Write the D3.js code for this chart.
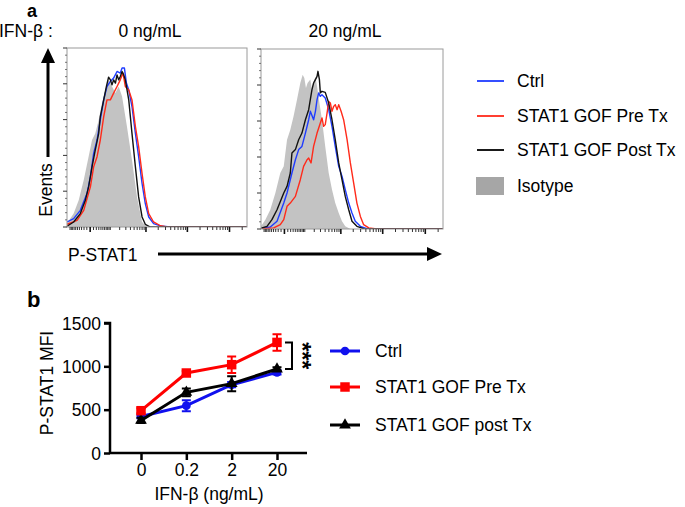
<!DOCTYPE html>
<html>
<head>
<meta charset="utf-8">
<script src="https://cdn.jsdelivr.net/npm/d3@7"></script>
<style>
  html, body { margin: 0; padding: 0; background: #fff; }
  svg { display: block; font-family: "Liberation Sans", Arial, Helvetica, sans-serif; }
</style>
</head>
<body>
<svg id="chart" width="685" height="507"></svg>
<script>
// ---------------- DATA ----------------
// Panel a: flow cytometry histograms. x = channel (0-1000 across the plot), y = % of max events
const histSeries = ["Ctrl", "STAT1 GOF Pre Tx", "STAT1 GOF Post Tx", "Isotype"];
const histPanels = ["0 ng/mL", "20 ng/mL"];

const iso0 = [[0,1.9],[37,7.5],[65,15],[93,26.2],[120,39.3],[139,48.6],[157,52.3],[176,59.8],[194,69.2],[213,76.6],[231,82.2],[250,78.5],[269,74.8],[287,78.5],[306,72.9],[333,56.1],[361,37.4],[389,16.8],[417,2.8],[444,0],[1000,0]];
const ctrl0 = [[0,2.8],[37,4.7],[74,9.3],[111,18.7],[130,28],[148,41.1],[167,48.6],[185,59.8],[204,71],[222,78.5],[241,81.3],[259,83.2],[278,86.9],[296,86],[306,88.8],[319,88.8],[330,80.4],[343,76.6],[361,67.3],[380,52.3],[398,39.3],[417,24.3],[435,13.1],[454,5.6],[481,1.9],[519,0.6],[574,0],[1000,0]];
const pre0 = [[0,1.5],[56,3.7],[93,9.3],[130,22.4],[148,33.6],[167,39.3],[185,48.6],[204,61.7],[222,71],[241,71],[259,74.8],[278,78.5],[296,82.2],[311,86],[324,78.5],[343,76.6],[361,71],[380,56.1],[398,44.9],[417,29.9],[435,16.8],[454,7.5],[481,2.8],[519,0.7],[556,0],[1000,0]];
const post0 = [[0,0.4],[37,2.8],[74,7.5],[102,15],[120,22.4],[139,33.6],[157,43],[176,52.3],[185,61.7],[204,71],[219,78.5],[231,83.7],[241,82.2],[250,79.4],[259,82.2],[269,80.4],[278,85],[287,82.2],[296,84.1],[306,86.9],[315,85],[324,82.2],[343,71],[361,52.3],[380,33.6],[398,16.8],[417,5.6],[435,1.5],[463,0],[1000,0]];

const iso20 = [[0,1.5],[24,5.2],[51,10.7],[79,20],[106,31.1],[125,34.8],[143,49.6],[161,55.2],[179,62.6],[198,71.9],[216,81.1],[229,85.7],[238,83.9],[247,78.3],[256,81.1],[271,83],[280,77.4],[289,82],[299,84.4],[308,79.3],[317,72.8],[335,60.7],[353,45.9],[372,31.1],[390,21.9],[408,14.4],[427,8.9],[445,4.3],[463,1.5],[491,0],[1000,0]];
const ctrl20 = [[0,0.2],[51,1.1],[88,4.3],[125,14.4],[143,20],[170,31.1],[189,38.5],[207,44.1],[225,45.9],[244,53.3],[262,60.7],[271,65.4],[289,60.7],[299,65.4],[308,71.9],[317,75.6],[326,73.7],[335,74.6],[353,72.8],[372,66.3],[390,57],[408,45.9],[427,34.8],[445,29.3],[463,21.9],[482,14.4],[500,8.9],[518,4.3],[546,1.5],[582,0.2],[1000,0]];
const pre20 = [[0,0],[70,0.6],[106,2.4],[125,5.2],[143,12.6],[161,14.4],[189,18.1],[216,27.4],[234,34.8],[253,38.5],[262,39.4],[275,36.7],[289,45.9],[308,53.3],[326,58.9],[335,61.7],[344,57],[353,58],[363,64.4],[372,70.9],[381,70],[390,65.4],[399,68.1],[408,69.1],[418,66.3],[427,69.1],[440,65.4],[454,60.7],[473,49.6],[491,36.7],[509,25.6],[527,14.4],[546,7],[564,2.4],[592,0.6],[637,0],[1000,0]];
const post20 = [[0,0.4],[33,1.5],[60,5.2],[88,10.7],[125,20],[143,23.7],[161,31.1],[170,42.2],[189,44.1],[207,49.6],[225,53.3],[244,60.7],[262,66.3],[271,71.9],[280,77.4],[289,81.1],[299,83],[308,84.8],[313,87.6],[321,83],[326,75.6],[335,76.5],[353,75.9],[372,70],[390,60.7],[408,49.6],[427,36.7],[445,27.4],[463,18.1],[482,10.7],[500,4.3],[527,1.5],[564,0.2],[1000,0]];

// Axis tick values of the biexponential fluorescence axis
const fluorMajorTicks = [0, 1e3, 1e4, 1e5];
const fluorMinorTicks = [-100,-90,-80,-70,-60,-50,-40,-30,-20,-10,10,20,30,40,50,60,70,80,90,
  100,200,300,400,500,600,700,800,900,2e3,3e3,4e3,5e3,6e3,7e3,8e3,9e3,
  2e4,3e4,4e4,5e4,6e4,7e4,8e4,9e4,2e5];
const eventMajorTicks = [0, 20, 40, 60, 80, 100];

// Panel b: P-STAT1 MFI
const doses = ["0", "0.2", "2", "20"];
const mfiTicks = [0, 500, 1000, 1500];
const lineSeries = ["Ctrl", "STAT1 GOF Pre Tx", "STAT1 GOF post Tx"];
const ctrlMean = [422, 546, 788, 930];
const ctrlErr  = [20, 63, 30, 25];
const preMean  = [488, 923, 1019, 1276];
const preErr   = [28, 22, 95, 95];
const postMean = [376, 700, 800, 969];
const postErr  = [30, 45, 87, 20];
const sigLabel = "***";

// ---------------- DRAWING ----------------
const svg = d3.select("#chart");
const FONT = 17.5;
const TITLE_Y = 37;

// Panel labels
svg.append("text").attr("x", 27).attr("y", 16.5).attr("font-size", 18).attr("font-weight", "bold").text("a");
svg.append("text").attr("x", 27).attr("y", 307).attr("font-size", 22).attr("font-weight", "bold").text("b");

svg.append("text").attr("x", -1).attr("y", TITLE_Y).attr("font-size", FONT).text("IFN-β :");

const blue = "#1f3cff", red = "#ff2a1a", isoGray = "#c3c3c3";
const histColors = { ctrl: blue, pre: red, post: "#111", iso: isoGray };

const panels = [
  { x0: 67, x1: 247, y0: 48, y1: 227, title: histPanels[0], data: { iso: iso0, ctrl: ctrl0, pre: pre0, post: post0 } },
  { x0: 261, x1: 443, y0: 49, y1: 229, title: histPanels[1], data: { iso: iso20, ctrl: ctrl20, pre: pre20, post: post20 } }
];

panels.forEach(p => {
  const x = d3.scaleLinear().domain([0, 1000]).range([p.x0, p.x1]);
  const y = d3.scaleLinear().domain([0, 100]).range([p.y1, p.y0]);
  const xf = d3.scaleSymlog().constant(50).domain([-127, 260000]).range([p.x0, p.x1]);
  const g = svg.append("g");
  const clipId = "clip" + p.x0;
  svg.append("clipPath").attr("id", clipId).append("rect")
    .attr("x", p.x0).attr("y", p.y0 - 2).attr("width", p.x1 - p.x0).attr("height", p.y1 - p.y0 + 2);

  const area = d3.area().x(d => x(d[0])).y0(y(0)).y1(d => y(d[1]));
  const line = d3.line().x(d => x(d[0])).y(d => y(d[1]));
  const plot = g.append("g").attr("clip-path", `url(#${clipId})`);
  plot.append("path").datum(p.data.iso).attr("d", area).attr("fill", isoGray);
  ["ctrl", "pre", "post"].forEach(k => {
    plot.append("path").datum(p.data[k]).attr("d", line)
      .attr("fill", "none").attr("stroke", histColors[k]).attr("stroke-width", 1.4)
      .attr("stroke-linejoin", "round");
  });

  // frame
  g.append("rect").attr("x", p.x0).attr("y", p.y0).attr("width", p.x1 - p.x0).attr("height", p.y1 - p.y0)
    .attr("fill", "none").attr("stroke", "#9a9a9a").attr("stroke-width", 1);

  // y ticks (events)
  const yMinor = d3.range(0, 100.1, 4).filter(v => eventMajorTicks.indexOf(v) < 0);
  g.selectAll(".ymaj").data(eventMajorTicks).enter().append("line")
    .attr("x1", p.x0 - 4).attr("x2", p.x0).attr("y1", d => y(d)).attr("y2", d => y(d))
    .attr("stroke", "#333").attr("stroke-width", 1);
  g.selectAll(".ymin").data(yMinor).enter().append("line")
    .attr("x1", p.x0 - 2).attr("x2", p.x0).attr("y1", d => y(d)).attr("y2", d => y(d))
    .attr("stroke", "#555").attr("stroke-width", 0.8);

  // x ticks (fluorescence)
  g.selectAll(".xmaj").data(fluorMajorTicks).enter().append("line")
    .attr("x1", d => xf(d)).attr("x2", d => xf(d)).attr("y1", p.y1).attr("y2", p.y1 + 5)
    .attr("stroke", "#111").attr("stroke-width", 1.6);
  g.selectAll(".xmin").data(fluorMinorTicks).enter().append("line")
    .attr("x1", d => xf(d)).attr("x2", d => xf(d)).attr("y1", p.y1).attr("y2", p.y1 + 3)
    .attr("stroke", "#333").attr("stroke-width", 1);

  svg.append("text").attr("x", (p.x0 + p.x1) / 2 - 7).attr("y", TITLE_Y).attr("text-anchor", "middle")
    .attr("font-size", FONT).text(p.title);
});

// Events label and arrow
svg.append("text").attr("transform", "translate(52,190) rotate(-90)").attr("text-anchor", "middle")
  .attr("font-size", FONT).text("Events");
svg.append("line").attr("x1", 48).attr("x2", 48).attr("y1", 157).attr("y2", 60)
  .attr("stroke", "#000").attr("stroke-width", 3);
svg.append("path").attr("d", "M41,63 L48,48 L55,63 Z").attr("fill", "#000");

// P-STAT1 label and arrow
svg.append("text").attr("x", 68).attr("y", 261).attr("font-size", FONT).text("P-STAT1");
svg.append("line").attr("x1", 158).attr("x2", 430).attr("y1", 254).attr("y2", 254)
  .attr("stroke", "#000").attr("stroke-width", 3);
svg.append("path").attr("d", "M427,247 L442,254 L427,261 Z").attr("fill", "#000");

// Legend a
const legA = [
  { name: histSeries[0], color: blue, type: "line" },
  { name: histSeries[1], color: red, type: "line" },
  { name: histSeries[2], color: "#000", type: "line" },
  { name: histSeries[3], color: "#a6a6a6", type: "box" }
];
const legAy = [81, 116, 150, 186];
legA.forEach((d, i) => {
  if (d.type === "line") {
    svg.append("line").attr("x1", 477).attr("x2", 504).attr("y1", legAy[i]).attr("y2", legAy[i])
      .attr("stroke", d.color).attr("stroke-width", 1.8);
  } else {
    svg.append("rect").attr("x", 476).attr("y", legAy[i] - 9).attr("width", 28).attr("height", 18).attr("fill", d.color);
  }
  svg.append("text").attr("x", 517).attr("y", legAy[i] + 6).attr("font-size", FONT).text(d.name);
});

// ---------------- Panel b ----------------
const bx = d3.scalePoint().domain(doses).range([141, 277]);
const by = d3.scaleLinear().domain([0, 1500]).range([453, 323]);

const yAxis = d3.axisLeft(by).tickValues(mfiTicks).tickFormat(d3.format("d")).tickSize(6).tickPadding(3);
const gy = svg.append("g").attr("transform", "translate(110,0)").call(yAxis);
gy.select(".domain").attr("d", `M-6,${by(1500)}H0V${by(0)}`).attr("stroke-width", 2.5);
gy.selectAll(".tick line").attr("stroke-width", 2.5);
gy.selectAll("text").attr("font-size", FONT).attr("font-family", "Liberation Sans, Arial, sans-serif").attr("fill", "#000").attr("dy", "0.36em");

const xAxis = d3.axisBottom(bx).tickSize(7).tickPadding(4);
const gx = svg.append("g").attr("transform", `translate(0,${by(0)})`).call(xAxis);
gx.select(".domain").attr("d", `M110,0H307`).attr("stroke-width", 2.5);
gx.selectAll(".tick line").attr("stroke-width", 2.5);
gx.selectAll("text").attr("font-size", FONT).attr("font-family", "Liberation Sans, Arial, sans-serif").attr("fill", "#000");

svg.append("text").attr("x", 209).attr("y", 500).attr("text-anchor", "middle").attr("font-size", FONT).text("IFN-β (ng/mL)");
svg.append("text").attr("transform", "translate(53,383) rotate(-90)").attr("text-anchor", "middle")
  .attr("font-size", FONT).text("P-STAT1 MFI");

const bSeries = [
  { name: lineSeries[0], mean: ctrlMean, err: ctrlErr, color: "#1010ee", sym: d3.symbolCircle, size: 60 },
  { name: lineSeries[2], mean: postMean, err: postErr, color: "#000", sym: d3.symbolTriangle, size: 60 },
  { name: lineSeries[1], mean: preMean, err: preErr, color: "#ff0000", sym: d3.symbolSquare, size: 90 }
];
const bLine = d3.line().x((d, i) => bx(doses[i])).y(d => by(d));
bSeries.forEach(s => {
  const g = svg.append("g");
  s.mean.forEach((m, i) => {
    const cx = bx(doses[i]);
    const t = by(m + s.err[i]), b = by(m - s.err[i]);
    g.append("path").attr("d", `M${cx},${t}V${b}M${cx - 4.5},${t}H${cx + 4.5}M${cx - 4.5},${b}H${cx + 4.5}`)
      .attr("stroke", s.color).attr("stroke-width", 2).attr("fill", "none");
  });
  g.append("path").datum(s.mean).attr("d", bLine).attr("fill", "none")
    .attr("stroke", s.color).attr("stroke-width", 3);
  g.selectAll(".pt").data(s.mean).enter().append("path")
    .attr("transform", (d, i) => `translate(${bx(doses[i])},${by(d)})`)
    .attr("d", d3.symbol().type(s.sym).size(s.size)).attr("fill", s.color);
});

// significance bracket between Pre Tx and Post Tx at 20 ng/mL
const bt = by(preMean[3]), bb = by(postMean[3]);
svg.append("path").attr("d", `M285,${bt}H292V${bb}H285`).attr("fill", "none").attr("stroke", "#000").attr("stroke-width", 2);
svg.append("text").attr("transform", `translate(295,${(bt + bb) / 2}) rotate(90)`).attr("text-anchor", "middle")
  .attr("font-size", 23).attr("font-weight", "bold").attr("dy", "0.05em").text(sigLabel);

// Legend b
const legBy = [351, 387, 425];
const legB = [bSeries[0], bSeries[2], bSeries[1]];
legB.forEach((s, i) => {
  svg.append("line").attr("x1", 330).attr("x2", 360).attr("y1", legBy[i]).attr("y2", legBy[i])
    .attr("stroke", s.color).attr("stroke-width", 3);
  svg.append("path").attr("transform", `translate(345,${legBy[i]})`)
    .attr("d", d3.symbol().type(s.sym).size(s.size)).attr("fill", s.color);
  svg.append("text").attr("x", 375).attr("y", legBy[i] + 6).attr("font-size", FONT).text(s.name);
});
</script>
</body>
</html>
